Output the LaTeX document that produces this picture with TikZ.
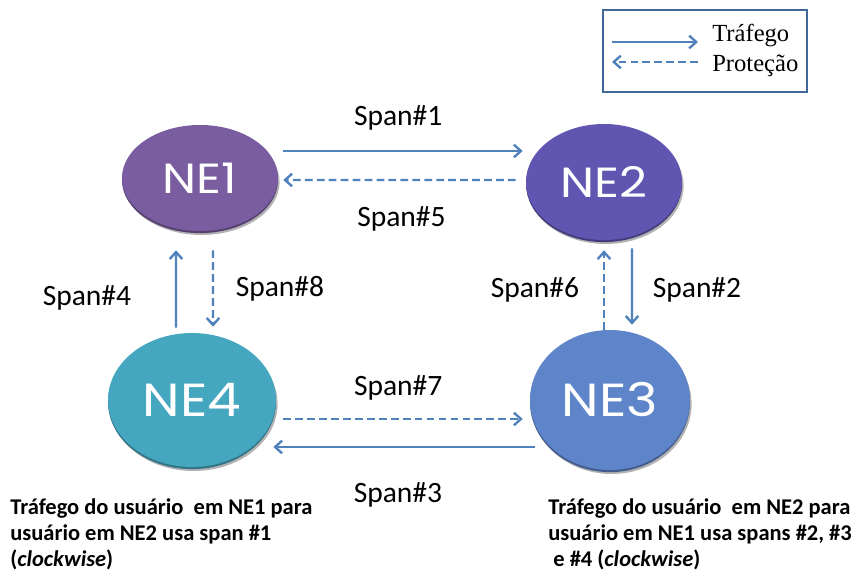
\documentclass[tikz,border=0pt]{standalone}
\usepackage{fontspec}
\setmainfont{Carlito}
\newfontfamily\nefont[FakeStretch=1.15]{Poppins}
\newfontfamily\legfont{Liberation Serif}
\usetikzlibrary{arrows.meta,shapes.geometric,shadows}
\definecolor{linkblue}{RGB}{79,129,189}
\definecolor{neone}{RGB}{122,92,160}
\definecolor{netwo}{RGB}{96,86,178}
\definecolor{nethree}{RGB}{94,133,202}
\definecolor{nefour}{RGB}{69,166,192}
\tikzset{
  disk/.style={ellipse, fill=#1, inner sep=0pt, text=white,
    font=\nefont\fontsize{30}{30}\selectfont,
    drop shadow={shadow xshift=0.04cm, shadow yshift=-0.1cm, opacity=0.3, fill=black},
    preaction={fill=#1!70!black, transform canvas={yshift=-1.5pt}}},
  traffic/.style={linkblue, line width=1.7pt, -{Straight Barb[length=5pt,width=9pt]}},
  protect/.style={traffic, dash pattern=on 5.5pt off 3pt},
  spanlbl/.style={text=black, font=\fontsize{21}{21}\selectfont},
  note/.style={font=\bfseries\fontsize{16}{18.5}\selectfont, align=left, inner sep=0pt, anchor=base west}
}
\begin{document}
\begin{tikzpicture}
	\useasboundingbox (0,0) rectangle (21.325,14.35);
	% network elements
	\node[disk=neone, minimum width=3.9cm, minimum height=2.65cm] (ne1) at (5.0,9.9) {NE1};
	\node[disk=netwo, minimum width=3.9cm, minimum height=2.9cm] (ne2) at (15.1,9.8) {NE2};
	\node[disk=nefour, minimum width=4.2cm, minimum height=3.35cm, font=\nefont\fontsize{33}{33}\selectfont] (ne4) at (4.8,4.35) {NE4};
	\node[disk=nethree, minimum width=4.0cm, minimum height=3.5cm, font=\nefont\fontsize{33}{33}\selectfont] (ne3) at (15.25,4.35) {NE3};
	% spans
	\draw[traffic] ([xshift=0.125cm,yshift=0.675cm]ne1.east) -- node[spanlbl, midway, yshift=0.83cm, xshift=-0.12cm] (s1) {Span\#1} ([xshift=-0.075cm,yshift=0.775cm]ne2.west);
	\draw[protect] ([xshift=-0.25cm,yshift=0.05cm]ne2.west) -- node[spanlbl, midway, yshift=-0.975cm, xshift=0.05cm] (s5) {Span\#5} ([xshift=0.125cm,yshift=-0.05cm]ne1.east);
	\draw[traffic] ([xshift=0.7cm,yshift=-0.2cm]ne2.south) -- node[spanlbl, midway, xshift=1.625cm, yshift=-0.09cm] (s2) {Span\#2} ([xshift=0.55cm,yshift=0.125cm]ne3.north);
	\draw[protect] ([xshift=-0.15cm]ne3.north) -- node[spanlbl, midway, xshift=-1.725cm] (s6) {Span\#6} ([yshift=-0.25cm]ne2.south);
	\draw[traffic] ([xshift=0.125cm,yshift=-1.175cm]ne3.west) -- node[spanlbl, midway, yshift=-1.2cm, xshift=-0.15cm] (s3) {Span\#3} ([xshift=-0.075cm,yshift=-1.175cm]ne4.east);
	\draw[protect] ([xshift=0.175cm,yshift=-0.475cm]ne4.east) -- node[spanlbl, midway, yshift=0.775cm, xshift=-0.12cm] (s7) {Span\#7} ([xshift=-0.175cm,yshift=-0.475cm]ne3.west);
	\draw[traffic] ([xshift=-0.4cm,yshift=0.125cm]ne4.north) -- node[spanlbl, midway, xshift=-2.225cm, yshift=-0.225cm] (s4) {Span\#4} ([xshift=-0.6cm,yshift=-0.475cm]ne1.south);
	\draw[protect] ([xshift=0.325cm,yshift=-0.475cm]ne1.south) -- node[spanlbl, midway, xshift=1.675cm] (s8) {Span\#8} ([xshift=0.525cm,yshift=0.15cm]ne4.north);
	% legend
	\draw[linkblue!80!black, line width=0.9pt] (15.075,14.1) rectangle (20.175,12.05);
	\coordinate (la) at (15.3,13.3);
	\coordinate (lb) at (17.45,13.3);
	\coordinate (lc) at (15.3,12.8);
	\coordinate (ld) at (17.45,12.8);
	\draw[traffic] (la) -- (lb);
	\draw[protect] (ld) -- (lc);
	\node[anchor=base west, inner sep=0pt, font=\legfont\fontsize{17.5}{17.5}\selectfont] (ltraf) at (17.8,13.3) {Tráfego};
	\node[anchor=base west, inner sep=0pt, font=\legfont\fontsize{17.5}{17.5}\selectfont] (lprot) at (17.8,12.55) {Proteção};
	% notes
	\node[note] (n1) at (0.25,0.175) {Tráfego do usuário\ \ em NE1 para\\usuário em NE2 usa span \#1\\(\textit{clockwise})};
	\node[note] (n2) at (13.7,0.175) {Tráfego do usuário\ \ em NE2 para\\usuário em NE1 usa spans \#2, \#3\\\ e \#4 (\textit{clockwise})};
\end{tikzpicture}
\end{document}
